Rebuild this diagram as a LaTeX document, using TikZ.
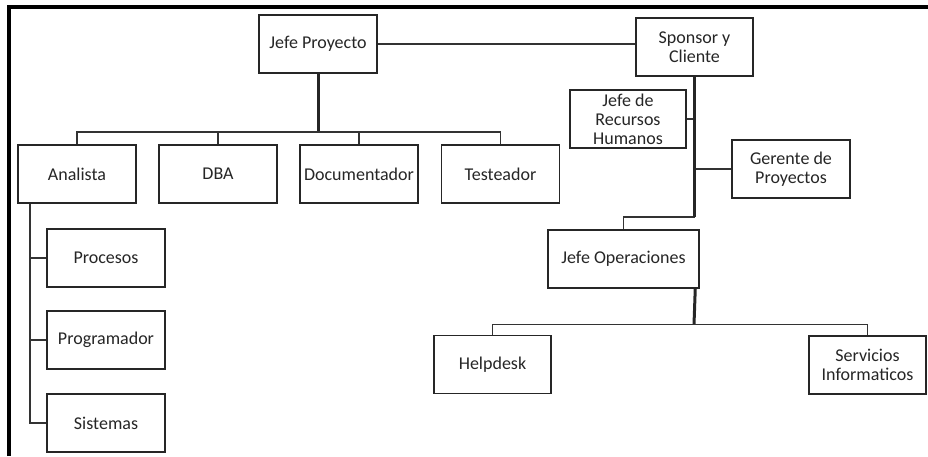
\documentclass[tikz,border=0pt]{standalone}
\usepackage{fontspec}
\setmainfont{Carlito}
\begin{document}
\begin{tikzpicture}[x=1pt,y=-1pt,
  box/.style={draw=black!85, line width=1.5pt, fill=white, minimum width=118pt,
    minimum height=58pt, inner sep=2pt, align=center, text=black!85,
    font=\fontsize{18}{19}\selectfont},
  link/.style={draw=black!80, line width=1.5pt},
  trunk/.style={draw=black!85, line width=3pt},
  frame/.style={draw=black, line width=4pt}]
\useasboundingbox (0,0) rectangle (928,456);

% outer frame: top and left edges only
\draw[frame] (9,456) -- (9,6.5) -- (928,6.5);

% project side
\node[box] (jp) at (318,44) {Jefe Proyecto};
\node[box] (an) at (77,174) {Analista};
\node[box] (dba) at (218,174) {DBA};
\node[box] (doc) at (359,174) {Documentador};
\node[box] (test) at (500.5,174) {Testeador};
\node[box] (proc) at (106,258) {Procesos};
\node[box] (prog) at (106,340) {Programador};
\node[box] (sis) at (106,423) {Sistemas};

% client side
\node[box, minimum width=117pt] (sc) at (694.5,47) {Sponsor y\\Cliente};
\node[box, minimum width=116pt] (jrh) at (628,119) {Jefe de\\Recursos\\Humanos};
\node[box] (gp) at (791,169) {Gerente de\\Proyectos};
\node[box, minimum width=151pt] (jo) at (623.5,259) {Jefe Operaciones};
\node[box, minimum width=117pt] (hd) at (492.5,364.5) {Helpdesk};
\node[box, minimum width=117pt] (si) at (867.5,365) {Servicios\\Informaticos};

% connectors, project side
\coordinate (bus) at (318,132);
\coordinate (ankey) at ([xshift=-47pt]an.south);
\draw[link] (jp.east) -- (jp.east -| sc.west);
\draw[trunk] (jp.south) -- (bus);
\draw[link] (an.north) |- (bus) -| (test.north);
\draw[link] (dba.north) -- (dba.north |- bus);
\draw[link] (doc.north) -- (doc.north |- bus);
\draw[link] (ankey) |- (sis.west);
\draw[link] (proc.west) -- (proc.west -| ankey);
\draw[link] (prog.west) -- (prog.west -| ankey);

% connectors, client side
\coordinate (jobranch) at (694.5,217);
\coordinate (jokey) at ([xshift=-4.5pt]jo.south east);
\coordinate (opbus) at (694,324.5);
\draw[link] (jrh.east) -- (jrh.east -| sc.south);
\draw[link] (gp.west) -- (gp.west -| sc.south);
\draw[link] (jo.north) |- (jobranch);
\draw[trunk] (sc.south) -- (jobranch);
\draw[trunk] (jokey) -- (opbus);
\draw[link] (hd.north) |- (opbus) -| (si.north);
\end{tikzpicture}
\end{document}
